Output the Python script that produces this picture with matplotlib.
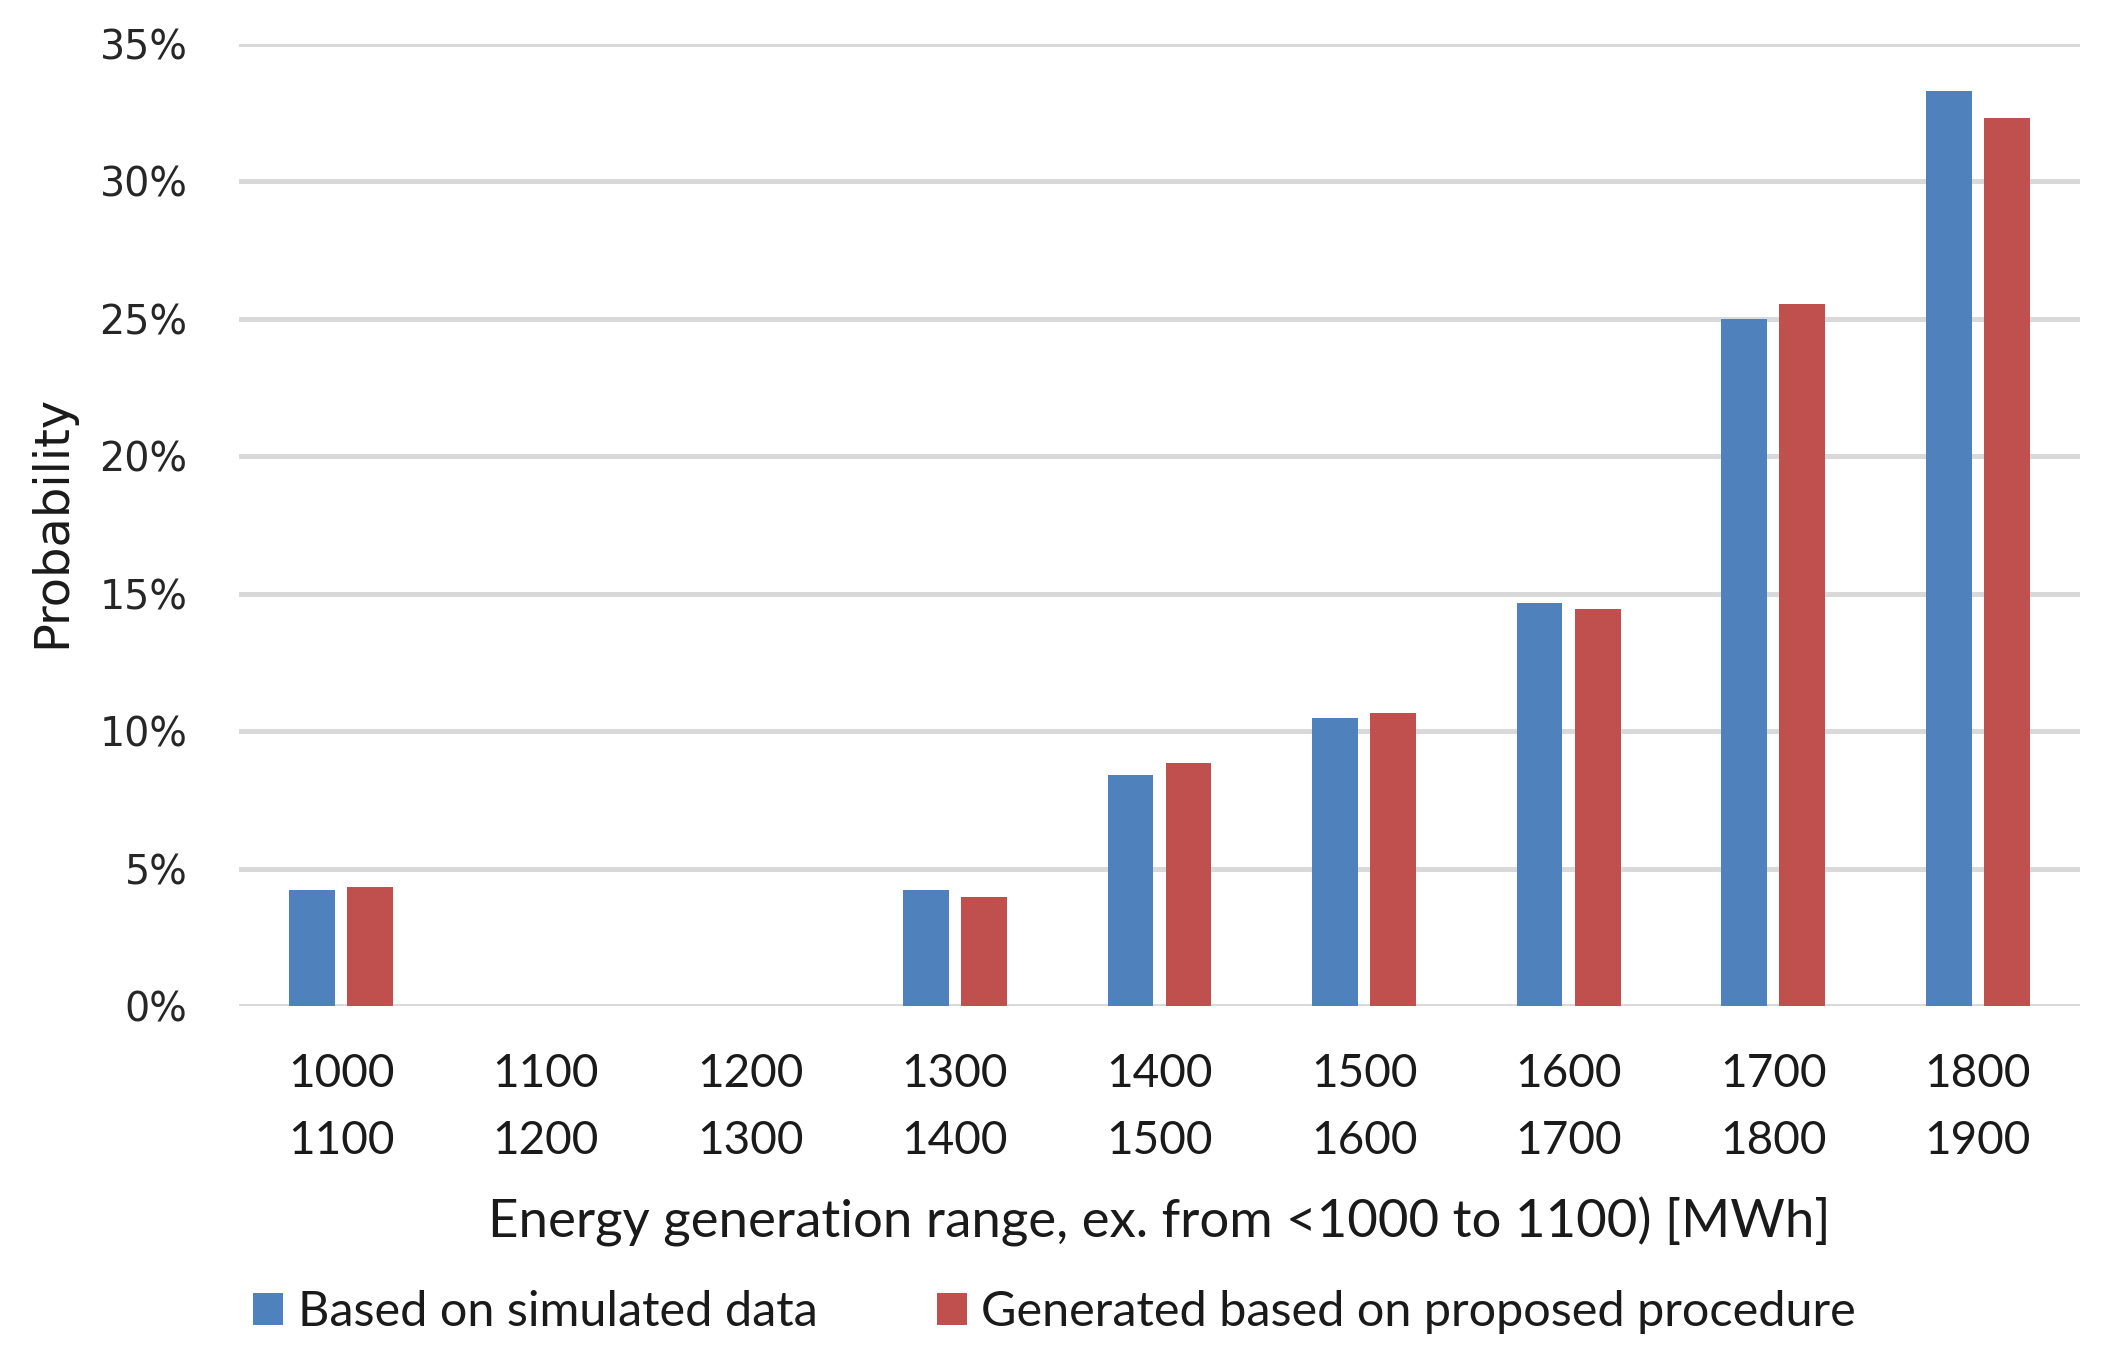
import matplotlib
matplotlib.use("Agg")
import matplotlib.pyplot as plt
from matplotlib.patches import Patch
import numpy as np

# ---- data ----
range_start = ["1000", "1100", "1200", "1300", "1400", "1500", "1600", "1700", "1800"]
range_end = ["1100", "1200", "1300", "1400", "1500", "1600", "1700", "1800", "1900"]
simulated = [4.22, 0.0, 0.0, 4.22, 8.39, 10.47, 14.65, 25.00, 33.30]
generated = [4.32, 0.0, 0.0, 3.96, 8.85, 10.66, 14.46, 25.54, 32.30]
series_names = ["Based on simulated data", "Generated based on proposed procedure"]
y_ticks = [0, 5, 10, 15, 20, 25, 30, 35]
x_label = "Energy generation range, ex. from <1000 to 1100) [MWh]"
y_label = "Probability"

# ---- style ----
BLUE = "#4F81BD"
RED = "#C0504D"
GRID = "#D9D9D9"
TXT = ["Lato", "DejaVu Sans"]

W, H = 2109, 1364
DPI = 100
fig = plt.figure(figsize=(W / DPI, H / DPI), dpi=DPI)
ax_left, ax_right = 239 / W, 2080 / W
ax_bottom, ax_top = (H - 1006) / H, (H - 44) / H
ax = fig.add_axes([ax_left, ax_bottom, ax_right - ax_left, ax_top - ax_bottom])

x = np.arange(len(range_start))
bw = 0.224
off = 0.142
ax.bar(x - off, simulated, width=bw, color=BLUE, linewidth=0, zorder=3)
ax.bar(x + off, generated, width=bw, color=RED, linewidth=0, zorder=3)

ax.set_xlim(-0.5, len(range_start) - 0.5)
ax.set_ylim(0, 35)
ax.set_yticks(y_ticks)
ax.set_yticklabels([f"{v}%" for v in y_ticks], family=["DejaVu Sans"], fontsize=28.5)
ax.grid(axis="y", color=GRID, linewidth=3.6, zorder=0)
ax.set_axisbelow(True)
for s in ax.spines.values():
    s.set_visible(False)
ax.tick_params(axis="y", length=0, pad=37, labelcolor="#262626")
ax.tick_params(axis="x", length=0, pad=34)
ax.set_xticks(x)
ax.set_xticklabels([f"{a}\n{b}" for a, b in zip(range_start, range_end)],
                   family=TXT, fontsize=33, color="#1a1a1a", linespacing=1.74)

ax.set_xlabel(x_label, family=TXT, fontsize=38, color="#1a1a1a")
ax.xaxis.set_label_coords(0.5, -(1197 - 1006) / 962)

fig.text(52 / W, 1 - 521 / H, y_label, rotation=90, ha="center", va="center",
         family=["DejaVu Sans"], fontsize=34.5, color="#1a1a1a")

handles = [Patch(facecolor=BLUE, edgecolor="none"), Patch(facecolor=RED, edgecolor="none")]
fig.legend(handles, series_names, loc="center", bbox_to_anchor=(0.5, 52 / H), ncol=2,
           frameon=False, prop={"family": TXT, "size": 35}, handlelength=0.62,
           handleheight=0.62, handletextpad=0.3, columnspacing=2.45,
           labelcolor="#1a1a1a")

fig.savefig("out.png", dpi=DPI, facecolor="white")
